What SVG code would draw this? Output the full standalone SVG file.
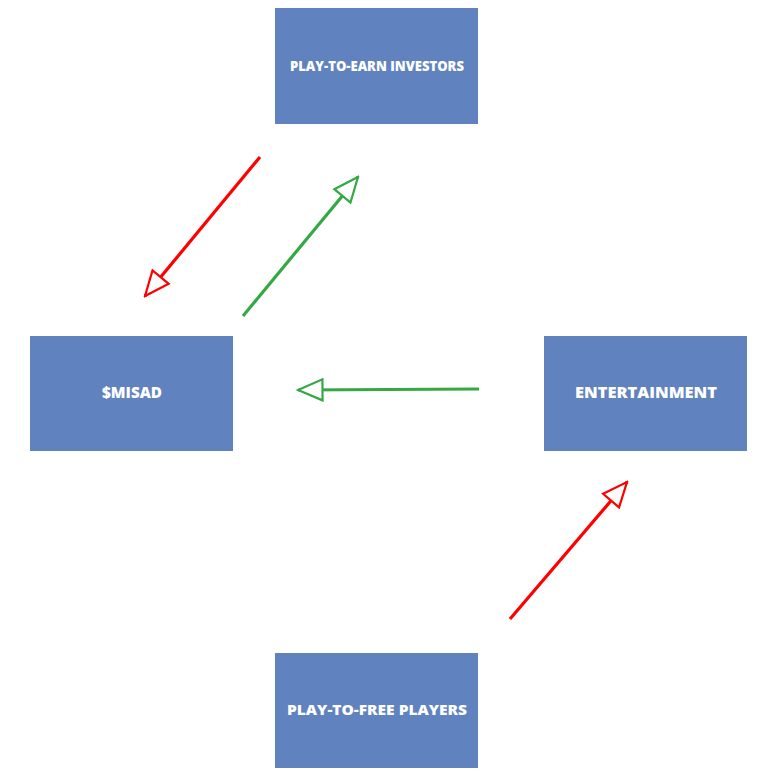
<svg xmlns="http://www.w3.org/2000/svg" width="773" height="779" viewBox="0 0 773 779">
<style>
.box{fill:#6083C0}
.lbl{fill:#fff;font-family:"Open Sans","Liberation Sans",sans-serif;font-weight:800;text-anchor:middle;dominant-baseline:central}
.red{stroke:#FF0000;stroke-width:3.2;fill:none}
.grn{stroke:#35A845;stroke-width:3.2;fill:none}
</style>
<defs>
<marker id="mr" viewBox="0 0 28 24" refX="26" refY="12" markerWidth="28" markerHeight="24" markerUnits="userSpaceOnUse" orient="auto">
<path d="M1.5,1.5 L26,12 L1.5,22.5 Z" fill="#fff" stroke="#FF0000" stroke-width="2.2"/>
</marker>
<marker id="mg" viewBox="0 0 28 24" refX="26" refY="12" markerWidth="28" markerHeight="24" markerUnits="userSpaceOnUse" orient="auto">
<path d="M1.5,1.5 L26,12 L1.5,22.5 Z" fill="#fff" stroke="#35A845" stroke-width="2.2"/>
</marker>
</defs>
<rect width="773" height="779" fill="#fff"/>
<g id="investors"><rect class="box" x="275" y="8" width="203" height="116"/><text class="lbl" x="377" y="65" font-size="14" textLength="174" lengthAdjust="spacingAndGlyphs">PLAY-TO-EARN INVESTORS</text></g>
<g id="misad"><rect class="box" x="30" y="336" width="203" height="115"/><text class="lbl" x="132" y="392" font-size="15" textLength="60" lengthAdjust="spacingAndGlyphs">$MISAD</text></g>
<g id="entertainment"><rect class="box" x="544" y="336" width="203" height="115"/><text class="lbl" x="646" y="391" font-size="16.5" textLength="142" lengthAdjust="spacingAndGlyphs">ENTERTAINMENT</text></g>
<g id="players"><rect class="box" x="275" y="653" width="203" height="115"/><text class="lbl" x="377" y="709" font-size="14.5" textLength="180" lengthAdjust="spacingAndGlyphs">PLAY-TO-FREE PLAYERS</text></g>
<g id="connectors">
<line class="red" x1="260" y1="157" x2="145" y2="296" marker-end="url(#mr)"/>
<line class="grn" x1="243" y1="316" x2="358" y2="177" marker-end="url(#mg)"/>
<line class="grn" x1="479" y1="389" x2="298" y2="390" marker-end="url(#mg)"/>
<line class="red" x1="510" y1="619" x2="627" y2="482" marker-end="url(#mr)"/>
</g>
</svg>
